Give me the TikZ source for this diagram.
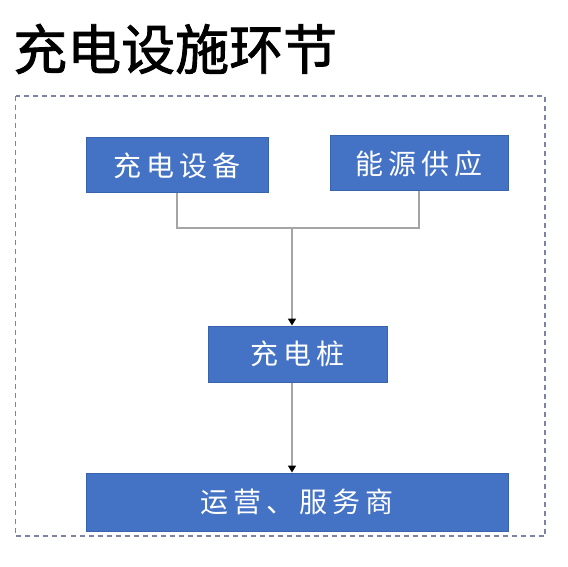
\documentclass[tikz,border=0pt]{standalone}
\usepackage{fontspec}
\newfontfamily\cjk{Noto Sans CJK SC}[FakeBold=1.6]
\newfontfamily\cjkwide{Noto Sans CJK SC}[LetterSpace=18]
\usetikzlibrary{arrows.meta}
\definecolor{boxblue}{HTML}{4472C4}
\definecolor{boxedge}{HTML}{3A63AE}
\definecolor{linkgray}{HTML}{A5A5A5}
\definecolor{framegray}{HTML}{7C82A6}
\begin{document}
\begin{tikzpicture}[x=1pt,y=-1pt,
    block/.style={fill=boxblue,draw=boxedge,line width=1pt,inner sep=0pt,
      text=white,font=\cjkwide\fontsize{28}{28}\selectfont},
    link/.style={draw=linkgray,line width=1.6pt},
    tip/.style={-{Triangle[width=8pt,length=7pt,color=black]}}]
  \useasboundingbox (0,0) rectangle (568,567);
  \node[anchor=west,inner sep=0pt,font=\cjk\fontsize{54}{54}\selectfont] (title) at (13,49) {充电设施环节};
  \draw[framegray,line width=1.4pt,dash pattern=on 5pt off 4pt] (15.5,96) rectangle (545,536);
  \draw
    (177,165.5) node[block,minimum width=182pt,minimum height=55pt] (equip){充电设备}
    (419,163.5) node[block,minimum width=178pt,minimum height=55pt] (energy){能源供应}
    (297.5,354) node[block,minimum width=179pt,minimum height=56pt] (pile){充电桩}
    (297,502) node[block,minimum width=422pt,minimum height=58pt] (oper){运营、服务商};
  \coordinate (junc) at (292,228);
  \begin{scope}[link]
    \draw (equip.south) -- (equip.south |- junc) -- (energy.south |- junc) -- (energy.south);
    \draw[tip] (junc) -- (junc |- pile.north);
    \draw[tip] (junc |- pile.south) -- (junc |- oper.north);
  \end{scope}
\end{tikzpicture}
\end{document}
